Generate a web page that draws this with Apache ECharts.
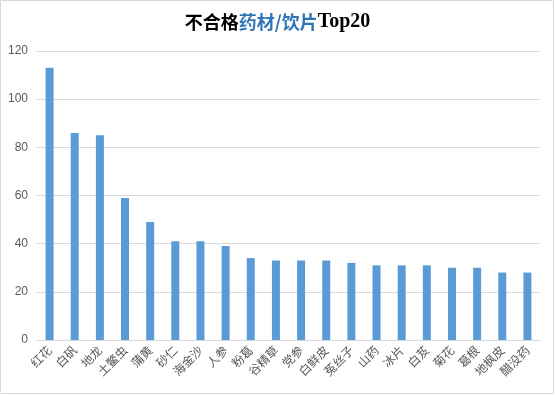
<!DOCTYPE html>
<html><head><meta charset="utf-8">
<script src="https://cdn.jsdelivr.net/npm/echarts@6/dist/echarts.min.js"></script>
<style>html,body{margin:0;padding:0;background:#fff}#c{width:555px;height:395px}</style>
</head><body><div id="c"></div>
<script>
const categories = ['红花','白矾','地龙','土鳖虫','蒲黄','砂仁','海金沙','人参','粉葛','谷精草','党参','白鲜皮','菟丝子','山药','冰片','白芨','菊花','葛根','地枫皮','醋没药'];
const values = [113,86,85,59,49,41,41,39,34,33,33,33,32,31,31,31,30,30,28,28];
const yTicks = [0,20,40,60,80,100,120];

const chart = echarts.init(document.getElementById('c'), null, {renderer:'canvas'});
chart.setOption({
  animation:false,
  backgroundColor:'#fff',
  title:{
    text:'{a|不合格}{b|药材/饮片}{c|Top20}',
    left:'center', top:7,
    textStyle:{
      rich:{
        a:{fontSize:18,fontWeight:'bold',color:'#000',fontFamily:'Noto Sans CJK SC'},
        b:{fontSize:18,fontWeight:'bold',color:'#2e75b6',fontFamily:'Noto Sans CJK SC'},
        c:{fontSize:20,fontWeight:'bold',color:'#000',fontFamily:'Liberation Serif'}
      }
    }
  },
  graphic:[{type:'rect',shape:{x:0.5,y:0.5,width:553,height:393},style:{fill:null,stroke:'#d9d9d9',lineWidth:1},silent:true}],
  grid:{left:37,right:15,top:51,bottom:55,containLabel:false},
  xAxis:{
    type:'category',data:categories,
    axisLine:{lineStyle:{color:'#d9d9d9'}},
    axisTick:{show:false},
    axisLabel:{rotate:45,interval:0,color:'#595959',fontSize:12,fontFamily:'Noto Sans CJK SC',margin:8}
  },
  yAxis:{
    type:'value',min:yTicks[0],max:yTicks[yTicks.length-1],interval:20,
    axisLine:{show:false},axisTick:{show:false},
    splitLine:{lineStyle:{color:'#d9d9d9'}},
    axisLabel:{color:'#595959',fontSize:12,fontFamily:'Liberation Sans',margin:9}
  },
  series:[{type:'bar',data:values,barWidth:8,itemStyle:{color:'#5b9bd5'}}]
});
</script></body></html>
